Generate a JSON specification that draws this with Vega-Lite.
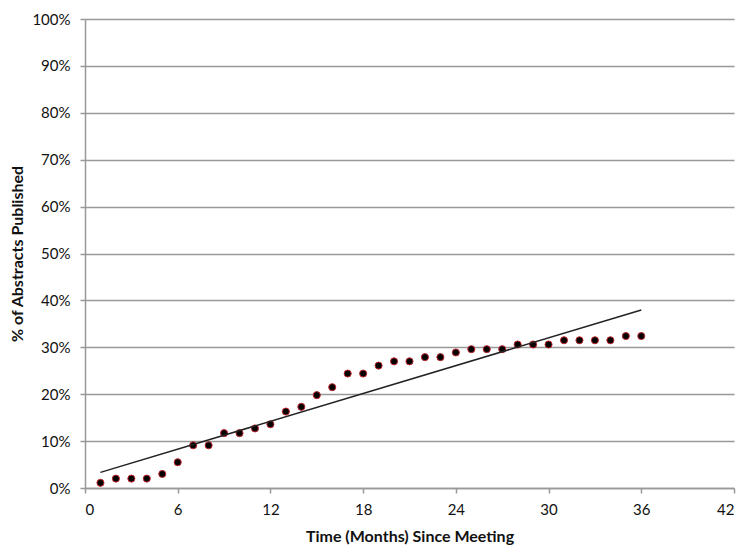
{
  "$schema": "https://vega.github.io/schema/vega-lite/v6.json",
  "width": 649,
  "height": 469,
  "autosize": "none",
  "padding": {"left": 85, "top": 19, "right": 16, "bottom": 63},
  "background": "white",
  "config": {
    "view": {"stroke": null},
    "font": "Lato"
  },
  "data": {
    "values": [
      {"month": 1, "pct": 0.011}, {"month": 2, "pct": 0.020}, {"month": 3, "pct": 0.020},
      {"month": 4, "pct": 0.020}, {"month": 5, "pct": 0.030}, {"month": 6, "pct": 0.055},
      {"month": 7, "pct": 0.091}, {"month": 8, "pct": 0.091}, {"month": 9, "pct": 0.117},
      {"month": 10, "pct": 0.117}, {"month": 11, "pct": 0.127}, {"month": 12, "pct": 0.136},
      {"month": 13, "pct": 0.163}, {"month": 14, "pct": 0.173}, {"month": 15, "pct": 0.198},
      {"month": 16, "pct": 0.215}, {"month": 17, "pct": 0.244}, {"month": 18, "pct": 0.244},
      {"month": 19, "pct": 0.261}, {"month": 20, "pct": 0.270}, {"month": 21, "pct": 0.270},
      {"month": 22, "pct": 0.279}, {"month": 23, "pct": 0.279}, {"month": 24, "pct": 0.289},
      {"month": 25, "pct": 0.296}, {"month": 26, "pct": 0.296}, {"month": 27, "pct": 0.296},
      {"month": 28, "pct": 0.306}, {"month": 29, "pct": 0.306}, {"month": 30, "pct": 0.306},
      {"month": 31, "pct": 0.315}, {"month": 32, "pct": 0.315}, {"month": 33, "pct": 0.315},
      {"month": 34, "pct": 0.315}, {"month": 35, "pct": 0.324}, {"month": 36, "pct": 0.324}
    ]
  },
  "encoding": {
    "x": {
      "field": "month", "type": "quantitative",
      "scale": {"domain": [0, 42], "nice": false, "zero": true},
      "axis": {
        "values": [0, 6, 12, 18, 24, 30, 36, 42],
        "title": "Time (Months) Since Meeting",
        "titleFont": "Lato", "titleFontSize": 16, "titleFontWeight": "bold", "titleColor": "#111",
        "titlePadding": 11,
        "labelFont": "Lato", "labelFontSize": 15, "labelColor": "#111", "labelPadding": 9,
        "grid": false,
        "domainColor": "#999", "domainWidth": 1.5,
        "tickColor": "#999", "tickWidth": 1.5, "tickSize": 5
      }
    },
    "y": {
      "field": "pct", "type": "quantitative",
      "scale": {"domain": [0, 1], "nice": false},
      "axis": {
        "values": [0, 0.1, 0.2, 0.3, 0.4, 0.5, 0.6, 0.7, 0.8, 0.9, 1],
        "format": ".0%",
        "title": "% of Abstracts Published",
        "titleFont": "Lato", "titleFontSize": 16, "titleFontWeight": "bold", "titleColor": "#111",
        "titlePadding": 6,
        "labelFont": "Lato", "labelFontSize": 15, "labelColor": "#111", "labelPadding": 10,
        "grid": true, "gridColor": "#999", "gridWidth": 1.5,
        "domainColor": "#999", "domainWidth": 1.5,
        "tickColor": "#999", "tickWidth": 1.5, "tickSize": 5
      }
    }
  },
  "layer": [
    {
      "mark": {"type": "point", "filled": false, "shape": "circle", "size": 50, "fill": "black", "fillOpacity": 1, "stroke": "#c0262d", "strokeWidth": 1, "opacity": 1}
    },
    {
      "transform": [{"regression": "pct", "on": "month", "method": "linear", "extent": [1, 36]}],
      "mark": {"type": "line", "color": "#222", "strokeWidth": 1.5}
    }
  ]
}
